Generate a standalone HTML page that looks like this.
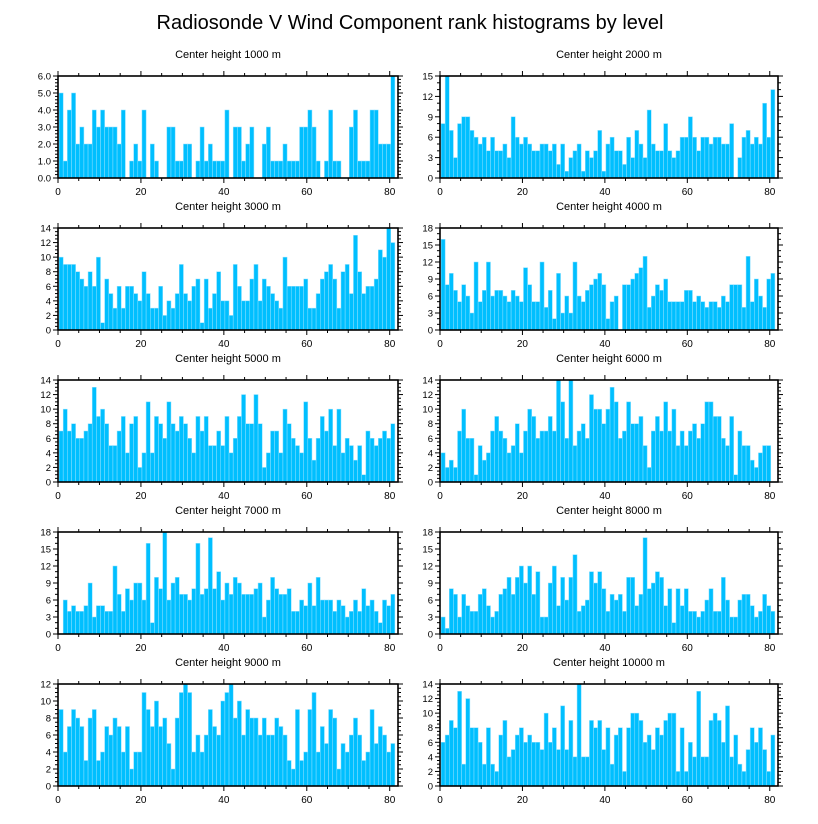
<!DOCTYPE html>
<html>
<head>
<meta charset="utf-8">
<style>
html,body{margin:0;padding:0;background:#fff;}
svg{display:block;font-family:"Liberation Sans",Arial,sans-serif;}
</style>
</head>
<body>
<svg id="chart" width="818" height="824" viewBox="0 0 818 824" xmlns="http://www.w3.org/2000/svg">
<text x="410" y="29" text-anchor="middle" font-size="20">Radiosonde V Wind Component rank histograms by level</text>
</svg>
<script>
const heights = ["1000","2000","3000","4000","5000","6000","7000","8000","9000","10000"];
const v1000 = [5,1,4,5,2,3,2,2,4,3,4,3,3,3,2,4,0,1,2,1,4,0,2,1,0,0,3,3,1,1,2,2,0,1,3,1,2,1,1,1,4,0,3,3,1,2,3,0,0,2,3,1,1,1,2,1,1,1,3,3,4,3,1,0,1,4,1,1,0,0,3,4,1,1,1,4,4,2,2,2,6];
const v2000 = [8,15,7,3,8,9,9,7,6,5,6,4,6,4,4,5,3,9,6,5,6,5,4,4,5,5,4,5,2,5,1,3,4,5,1,4,3,4,7,1,5,6,4,4,2,6,3,7,5,3,10,5,4,4,8,4,3,4,6,6,9,6,4,6,6,5,6,6,5,5,8,0,3,6,7,5,6,5,11,6,13];
const v3000 = [10,9,9,9,8,7,6,8,6,10,1,7,5,3,6,3,6,6,5,4,8,5,3,3,6,2,4,3,5,9,5,4,6,7,1,7,3,5,8,4,4,2,9,6,4,4,7,9,4,7,6,5,4,3,10,6,6,6,6,7,3,3,5,7,8,9,7,3,8,9,5,13,8,5,6,6,7,11,10,14,12];
const v4000 = [16,8,10,7,5,8,6,3,12,5,7,12,6,7,7,6,5,7,6,5,11,8,5,5,12,4,7,2,10,3,6,3,12,6,5,7,8,9,10,8,2,5,6,0,8,8,9,10,11,13,4,6,8,7,9,5,5,5,5,7,7,5,6,5,4,5,5,4,6,5,8,8,8,4,13,5,9,6,4,9,10];
const v5000 = [7,10,7,8,6,6,7,8,13,9,10,8,5,5,7,9,4,8,9,2,4,11,4,9,8,6,11,8,7,9,8,6,4,9,7,9,5,5,7,5,9,4,6,9,12,8,8,12,8,2,4,7,7,4,10,8,6,5,4,11,6,3,6,9,7,10,5,10,4,6,5,3,5,1,7,6,5,6,7,6,8];
const v6000 = [4,2,3,2,7,10,6,6,1,5,3,4,7,9,7,6,4,5,8,4,7,10,9,6,7,7,9,7,14,11,6,14,5,7,8,6,12,10,10,8,10,13,11,6,7,11,8,8,9,5,2,7,9,7,11,7,10,5,7,5,7,8,6,8,11,11,9,9,6,5,9,1,7,5,5,3,2,4,5,5,0];
const v7000 = [0,6,4,5,4,4,5,9,3,5,5,4,4,12,7,4,8,6,9,9,6,16,2,10,8,18,6,9,10,7,7,6,8,16,7,8,17,8,11,6,9,7,10,9,7,7,7,8,9,3,6,10,8,7,7,8,4,4,6,5,9,5,10,6,6,6,4,6,5,3,4,6,4,8,5,6,4,2,6,5,7];
const v8000 = [3,1,8,7,3,7,5,4,4,7,8,5,3,4,7,8,10,7,10,12,9,12,7,11,3,3,9,12,5,10,6,10,14,4,5,6,11,9,11,8,4,7,6,7,4,10,10,5,7,17,8,9,11,10,5,8,2,8,5,8,4,4,3,4,6,8,4,4,10,6,3,3,6,7,7,5,3,4,7,5,4];
const v9000 = [9,4,7,9,8,7,3,8,9,3,4,7,6,8,7,4,7,2,4,4,11,9,7,10,7,8,5,2,8,11,12,11,4,6,4,6,9,7,6,10,11,12,8,10,6,9,8,8,6,8,6,6,8,7,6,3,2,9,3,4,9,11,4,7,5,9,8,2,5,4,6,8,6,3,4,9,5,7,6,4,5];
const v10000 = [6,7,9,8,13,3,12,8,8,6,3,8,3,2,7,9,4,5,7,8,6,7,6,6,5,10,6,8,5,11,5,9,4,14,4,4,9,8,9,5,8,3,7,8,2,8,10,10,9,6,7,5,8,7,9,10,10,2,8,2,6,4,13,4,4,9,10,9,6,11,4,7,3,2,5,8,6,8,5,2,7];
const panelValues = [v1000,v2000,v3000,v4000,v5000,v6000,v7000,v8000,v9000,v10000];
const yMaxes = [6,15,14,18,14,14,18,18,12,14];
const ySteps = [1,3,2,3,2,2,3,3,2,2];
const xTicks = [0,20,40,60,80];

const NS = "http://www.w3.org/2000/svg";
const svg = document.getElementById("chart");
function mk(tag, attrs, parent){
  const e = document.createElementNS(NS, tag);
  for (const k in attrs) e.setAttribute(k, attrs[k]);
  parent.appendChild(e);
  return e;
}
const X_MAX = 82;
for (let i = 0; i < panelValues.length; i++) {
  const col = i % 2, row = Math.floor(i / 2);
  const left = col ? 440 : 58;
  const width = col ? 338 : 340;
  const top = 76 + row * 152;
  const h = 102;
  const yMax = yMaxes[i], yStep = ySteps[i];
  const xs = v => left + v / X_MAX * width;
  const ys = v => top + h - v / yMax * h;
  const g = mk("g", {}, svg);
  
  

  const st = mk("text", {x: left + width/2, y: top - 18, "text-anchor": "middle", "font-size": "11"}, g);
  
  
  st.textContent = "Center height " + heights[i] + " m";

  const vals = panelValues[i];
  for (let k = 0; k < vals.length; k++) {
    if (vals[k] <= 0) continue;
    const x0 = xs(k + 0.25), x1 = xs(k + 1.25);
    const r = mk("rect", {x: x0, y: ys(vals[k]), width: x1 - x0, height: ys(0) - ys(vals[k]), fill: "#00bfff", stroke: "#8fe0ff", "stroke-width": "0.5"}, g);
    
    
  }

  // ticks
  const tk = mk("g", {stroke: "#000", "stroke-width": "1"}, g);
  
  
  for (let v = 0; v <= 80; v += 5) {
    const len = (v % 20 === 0) ? 5 : 3;
    const x = xs(v);
    mk("line", {x1: x, y1: top + h, x2: x, y2: top + h + len}, tk);
    mk("line", {x1: x, y1: top, x2: x, y2: top - len}, tk);
  }
  const minorN = (yStep === 3) ? 3 : (yStep === 2 ? 4 : 5);
  const mstep = yStep / minorN;
  for (let j = 0; j * mstep <= yMax + 1e-9; j++) {
    const v = j * mstep;
    const len = (j % minorN === 0) ? 5 : 3;
    const y = ys(v);
    mk("line", {x1: left, y1: y, x2: left - len, y2: y}, tk);
    mk("line", {x1: left + width, y1: y, x2: left + width + len, y2: y}, tk);
  }

  const border = mk("rect", {x: left, y: top, width: width, height: h, fill: "none", stroke: "#000", "stroke-width": "1.6"}, g);
  
  

  for (const t of xTicks) {
    const tx = mk("text", {x: xs(t), y: top + h + 17, "text-anchor": "middle", "font-size": "10"}, g);
    
    
    tx.textContent = t;
  }
  for (let v = 0; v <= yMax + 1e-9; v += yStep) {
    const ty = mk("text", {x: left - 7, y: ys(v) + 3.5, "text-anchor": "end", "font-size": "9.5"}, g);
    
    
    ty.textContent = (yMax === 6) ? v.toFixed(1) : String(v);
  }
}
</script>
</body>
</html>
